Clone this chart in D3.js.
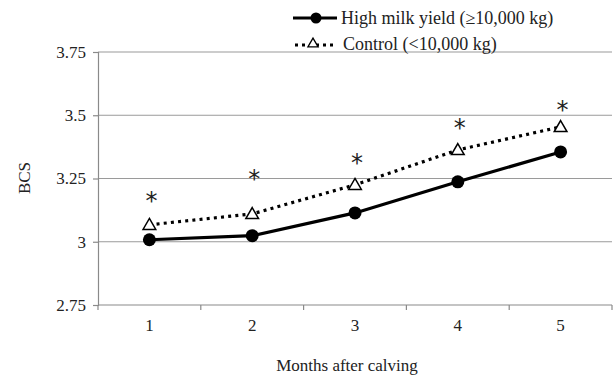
<html>
<script src="https://d3js.org/d3.v7.min.js"></script>
<style>
body { margin: 0; background: #fff; }
text { font-family: "Liberation Serif", "Times New Roman", serif; fill: #222; }
</style>
<body>
<svg width="613" height="376"></svg>
<script>
var months = ["1", "2", "3", "4", "5"];
var highYield = [3.008, 3.024, 3.114, 3.237, 3.355];
var control = [3.067, 3.11, 3.225, 3.363, 3.454];
var starPos = [3.174, 3.26, 3.322, 3.462, 3.533];
var yTicks = [2.75, 3, 3.25, 3.5, 3.75];
var seriesNames = ["High milk yield (\u226510,000 kg)", "Control (<10,000 kg)"];

var svg = d3.select("svg");
var plotL = 98, plotR = 612, plotT = 52, plotB = 305;

var x = d3.scaleBand().domain(months).range([plotL, plotR]);
var y = d3.scaleLinear().domain([2.75, 3.75]).range([plotB, plotT]);
var cx = function(d, i) { return x(months[i]) + x.bandwidth() / 2; };

// gridlines
svg.append("g").selectAll("line").data(yTicks.slice(1)).enter().append("line")
	.attr("x1", plotL).attr("x2", plotR)
	.attr("y1", function(d) { return y(d); }).attr("y2", function(d) { return y(d); })
	.attr("stroke", "#9a9a9a").attr("stroke-width", 1.2);

var yAxis = svg.append("g").attr("transform", "translate(" + plotL + ",0)")
	.call(d3.axisLeft(y).tickValues(yTicks).tickSize(5).tickPadding(7).tickFormat(function(d) { return d; }));
var xAxis = svg.append("g").attr("transform", "translate(0," + plotB + ")")
	.call(d3.axisBottom(x).tickSize(0).tickPadding(14));
// boundary ticks between categories
var bounds = months.map(function(m) { return x(m); }).concat([plotR]);
xAxis.selectAll(".bt").data(bounds).enter().append("line")
	.attr("x1", function(d) { return d; }).attr("x2", function(d) { return d; })
	.attr("y1", 0).attr("y2", 5).attr("stroke", "#8a8a8a").attr("stroke-width", 1.2);

[yAxis, xAxis].forEach(function(a) {
	a.selectAll("path.domain").attr("stroke", "#8a8a8a").attr("stroke-width", 1.2);
	a.selectAll(".tick line").attr("stroke", "#8a8a8a").attr("stroke-width", 1.2);
	a.selectAll("text").style("font-family", "Liberation Serif").style("font-size", "17px").attr("fill", "#222");
});
xAxis.select("path.domain").attr("d", "M" + plotL + ",0H" + plotR);

// control line (dotted) and high yield line
var line = d3.line().x(function(d, i) { return cx(d, i); }).y(function(d) { return y(d); });
svg.append("path").datum(control).attr("d", line)
	.attr("fill", "none").attr("stroke", "#000").attr("stroke-width", 3.2)
	.attr("stroke-dasharray", "3,4.2");
svg.append("path").datum(highYield).attr("d", line)
	.attr("fill", "none").attr("stroke", "#000").attr("stroke-width", 3.2);

var tri = d3.symbol().type(d3.symbolTriangle).size(70);
svg.append("g").selectAll("path").data(control).enter().append("path")
	.attr("d", tri)
	.attr("transform", function(d, i) { return "translate(" + cx(d, i) + "," + (y(d) + 1) + ")"; })
	.attr("fill", "#fff").attr("stroke", "#000").attr("stroke-width", 1.5);
svg.append("g").selectAll("circle").data(highYield).enter().append("circle")
	.attr("cx", cx).attr("cy", function(d) { return y(d); })
	.attr("r", 6.5).attr("fill", "#000");

// significance stars
svg.append("g").selectAll("text").data(starPos).enter().append("text")
	.attr("x", function(d, i) { return cx(d, i) + 2; })
	.attr("y", function(d) { return y(d) + 11; })
	.attr("text-anchor", "middle").style("font-size", "24px").style("font-family", "DejaVu Sans")
	.attr("fill", "#222").text("*");

// axis titles
svg.append("text").attr("transform", "translate(30,178) rotate(-90)")
	.attr("text-anchor", "middle").style("font-size", "17px").text("BCS");
svg.append("text").attr("x", 347).attr("y", 371)
	.attr("text-anchor", "middle").style("font-size", "17px").text("Months after calving");

// legend
var lg = svg.append("g");
lg.append("line").attr("x1", 293).attr("x2", 337).attr("y1", 18).attr("y2", 18)
	.attr("stroke", "#000").attr("stroke-width", 3.2);
lg.append("circle").attr("cx", 316).attr("cy", 18).attr("r", 5.5).attr("fill", "#000");
lg.append("text").attr("x", 341).attr("y", 24).style("font-size", "18px").text(seriesNames[0]);
lg.append("line").attr("x1", 295).attr("x2", 337).attr("y1", 45).attr("y2", 45)
	.attr("stroke", "#000").attr("stroke-width", 3).attr("stroke-dasharray", "3,4");
lg.append("path").attr("d", d3.symbol().type(d3.symbolTriangle).size(45))
	.attr("transform", "translate(313,44)").attr("fill", "#fff").attr("stroke", "#000").attr("stroke-width", 1.3);
lg.append("text").attr("x", 343).attr("y", 50).style("font-size", "18px").text(seriesNames[1]);
</script>
</body>
</html>
